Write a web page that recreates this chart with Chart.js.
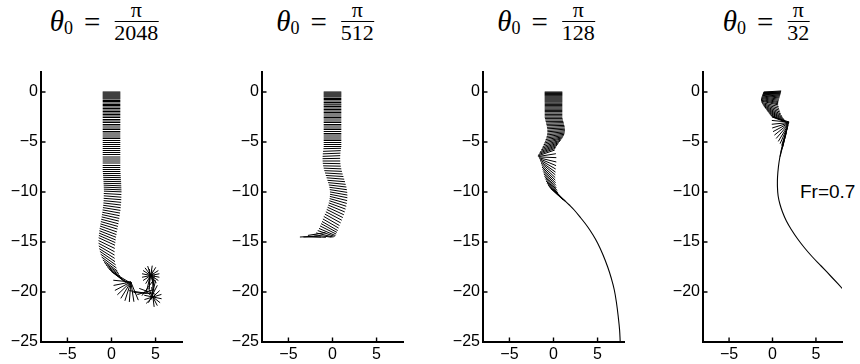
<!DOCTYPE html>
<html>
<head>
<meta charset="utf-8">
<script src="https://cdn.jsdelivr.net/npm/chart.js@4.4.1/dist/chart.umd.min.js"></script>
<style>
    body { margin: 0; background: #fff; width: 860px; height: 364px; position: relative; overflow: hidden; }
    canvas { position: absolute; top: 0; }
    .titulo {
        position: absolute; top: 1px; height: 40px; transform: translateX(-50%);
        display: flex; align-items: center; white-space: nowrap; color: #000;
        font-family: "Liberation Serif", "DejaVu Serif", serif; font-size: 29px; line-height: 1;
    }
    .titulo i { font-style: italic; position: relative; top: 0px; }
    .titulo .sub { font-size: 18px; align-self: flex-end; margin-bottom: 4px; }
    .titulo .eq { margin: 0 14px 0 11px; position: relative; top: 1px; }
    .frac { display: inline-flex; flex-direction: column; align-items: center; font-size: 22px; }
    .frac .num { border-bottom: 1.3px solid #000; width: 100%; text-align: center; line-height: 1; }
    .frac .den { line-height: 0.85; padding-top: 2px; }
    .rotulo { position: absolute; left: 800px; top: 182px; font-family: "Liberation Sans", Arial, sans-serif; font-size: 19px; line-height: 19px; }
</style>
</head>
<body>
<div class="titulo" style="left:104px"><i>θ</i><span class="sub">0</span><span class="eq">=</span><span class="frac"><span class="num">π</span><span class="den">2048</span></span></div>
<div class="titulo" style="left:325px"><i>θ</i><span class="sub">0</span><span class="eq">=</span><span class="frac"><span class="num">π</span><span class="den">512</span></span></div>
<div class="titulo" style="left:546px"><i>θ</i><span class="sub">0</span><span class="eq">=</span><span class="frac"><span class="num">π</span><span class="den">128</span></span></div>
<div class="titulo" style="left:766px"><i>θ</i><span class="sub">0</span><span class="eq">=</span><span class="frac"><span class="num">π</span><span class="den">32</span></span></div>
<div class="rotulo">Fr=0.7</div>

<canvas id="painel1" width="200" height="364" style="left:0px"></canvas>
<canvas id="painel2" width="200" height="364" style="left:221px"></canvas>
<canvas id="painel3" width="200" height="364" style="left:442px"></canvas>
<canvas id="painel4" width="198" height="364" style="left:662px"></canvas>

<script>
// Ticks dos eixos
const ticksX = [-5, 0, 5];
const ticksY = [-25, -20, -15, -10, -5, 0];
const ticksYPainel4 = [-20, -15, -10, -5, 0];

// Placas: [centro x, centro y, ângulo em graus]
const placas1 = [
    [0, 0, 0], [0, -0.1, 0], [0, -0.2, 0], [0, -0.3, 0], [0, -0.4, 0], [0, -0.5, 0], [0, -0.6, 0], [0, -0.7, 0], [0, -0.85, 0], [0, -0.95, 0],
    [0, -1.1, 0], [0, -1.25, 0], [0, -1.35, 0], [0, -1.5, 0], [0, -1.65, 0], [0, -1.8, 0], [0, -1.95, 0], [0, -2.1, 0], [0, -2.25, 0], [0, -2.4, 0],
    [0, -2.55, 0], [0, -2.75, 0], [0, -2.9, 0], [0, -3.05, 0], [0, -3.25, 0], [0, -3.4, 0], [0, -3.6, 0], [0, -3.75, 0], [0, -3.95, 0], [0, -4.1, 0],
    [0, -4.3, 0], [0, -4.5, 0], [0, -4.65, 0], [0, -4.85, 0], [0, -5.05, 0], [0, -5.25, 0], [0, -5.45, 0], [0, -5.65, 0], [0, -5.85, 0], [0, -6.05, 0],
    [0, -6.25, 0], [0, -6.5, 0], [0, -6.7, 0], [0, -6.9, 0], [0, -7.1, 0], [0, -7.35, 0], [0, -7.55, 0], [0, -7.75, 0],
    [0.01, -7.95, 0], [0.03, -8.15, 0], [0.04, -8.35, -1], [0.06, -8.55, -1], [0.07, -8.75, -1], [0.09, -8.95, -1], [0.1, -9.15, -1],
    [0.11, -9.35, -2], [0.12, -9.55, -2], [0.13, -9.75, -2], [0.14, -9.95, -2],
    [0.12, -10.2, -3], [0.12, -10.45, -4], [0.11, -10.7, -4], [0.1, -10.95, -5], [0.08, -11.2, -6], [0.05, -11.45, -7], [0.02, -11.7, -8],
    [-0.02, -11.95, -9], [-0.06, -12.2, -10], [-0.1, -12.45, -11], [-0.14, -12.7, -12], [-0.19, -12.95, -13], [-0.24, -13.2, -14],
    [-0.29, -13.45, -15], [-0.34, -13.7, -17], [-0.39, -13.95, -18], [-0.43, -14.2, -19], [-0.47, -14.45, -20], [-0.5, -14.7, -21], [-0.53, -14.95, -22],
    [-0.55, -15.25, -23], [-0.56, -15.55, -25], [-0.55, -15.85, -27], [-0.52, -16.15, -29], [-0.46, -16.45, -31], [-0.38, -16.75, -32],
    [-0.28, -17.05, -33], [-0.15, -17.35, -34], [0.0, -17.6, -34], [0.17, -17.85, -35], [0.36, -18.1, -35], [0.56, -18.3, -35],
    [0.8, -18.5, -34], [1.05, -18.6, -32], [1.3, -18.65, -28],
    [1.2, -18.91, -5], [1.22, -19.17, 10], [1.29, -19.42, 25], [1.43, -19.64, 40], [1.63, -19.82, 55], [1.86, -19.94, 70],
    [2.11, -20.0, 85], [2.37, -19.99, 100], [2.62, -19.91, 115],
    [3.0, -20.0, -8], [3.5, -20.1, -3], [3.9, -20.0, 15], [4.1, -19.6, 50], [4.2, -19.1, 75], [4.3, -18.7, 90],
    [4.45, -18.35, 110], [4.45, -18.35, 130], [4.45, -18.35, 150], [4.45, -18.35, 170], [4.45, -18.35, 10], [4.45, -18.35, 30],
    [4.45, -18.35, 55], [4.45, -18.35, 80],
    [4.65, -18.8, 95], [4.75, -19.3, 85], [4.75, -19.8, 75], [4.7, -20.2, 60],
    [4.7, -20.5, 40], [4.7, -20.5, 15], [4.7, -20.5, -10], [4.7, -20.5, -35], [4.7, -20.5, -60], [4.7, -20.5, -82],
    [4.1, -19.95, -18]
];

const placas2 = [
    [0, 0, 0], [0, -0.1, 0], [0, -0.2, 0], [0, -0.3, 0], [0, -0.4, 0], [0, -0.5, 0], [0, -0.65, 0], [0, -0.75, 0], [0, -0.9, 0], [0, -1.05, 0],
    [0, -1.2, 0], [0, -1.3, 0], [0, -1.45, 0], [0, -1.6, 0], [0, -1.75, 0], [0, -1.9, 0], [0, -2.05, 0], [0, -2.2, 0], [0, -2.4, 0], [0, -2.55, 0],
    [0, -2.7, 0], [0, -2.9, 0], [0, -3.05, 0], [0, -3.25, 0], [0, -3.4, 0], [0, -3.6, 0], [0, -3.75, 0], [0, -3.95, 0], [0, -4.15, 0], [0, -4.3, 0],
    [0, -4.5, 0], [0, -4.7, 0], [0, -4.85, 0], [0, -5.05, 0], [0, -5.25, 0], [0, -5.45, 0],
    [-0.03, -5.65, 1], [-0.07, -5.9, 2], [-0.1, -6.15, 2], [-0.12, -6.4, 2], [-0.13, -6.65, 1], [-0.12, -6.9, 0], [-0.1, -7.15, -1],
    [-0.06, -7.4, -1], [0, -7.65, -2], [0.07, -7.9, -2], [0.15, -8.15, -3], [0.24, -8.4, -3], [0.33, -8.65, -4], [0.42, -8.9, -4],
    [0.5, -9.15, -5], [0.58, -9.4, -6], [0.64, -9.65, -7], [0.68, -9.9, -8], [0.7, -10.15, -9], [0.7, -10.4, -10],
    [0.68, -10.65, -12], [0.65, -10.9, -14], [0.6, -11.15, -16], [0.53, -11.4, -18], [0.45, -11.65, -20], [0.36, -11.9, -22],
    [0.26, -12.15, -24], [0.15, -12.4, -25], [0.03, -12.65, -26], [-0.1, -12.9, -27], [-0.2, -13.15, -27], [-0.3, -13.4, -27],
    [-0.4, -13.6, -26], [-0.5, -13.8, -24], [-0.6, -14.0, -21], [-0.72, -14.15, -17], [-0.88, -14.3, -12], [-1.1, -14.4, -7],
    [-1.8, -14.2, 8], [-1.75, -14.48, -3], [-2.3, -14.5, 0], [-2.7, -14.45, 3]
];

const placas3 = [
    [0, 0, 0], [0, -0.08, 0], [0, -0.16, 0], [0, -0.24, 0], [0, -0.32, 0], [0, -0.4, 0], [0, -0.5, 0], [0, -0.6, 0], [0, -0.7, 0], [0, -0.8, 0],
    [0, -0.9, 0], [0, -1.0, 0], [0, -1.12, 0], [0, -1.24, 0], [0, -1.36, 0], [0, -1.48, 0], [0, -1.6, 0], [0, -1.72, 0], [0, -1.84, 0], [0, -1.96, 0],
    [0, -2.1, 0], [0, -2.24, 0], [0, -2.38, 0], [0, -2.52, 0],
    [0.03, -2.66, 0], [0.07, -2.8, 0], [0.11, -2.94, 0], [0.15, -3.08, 1], [0.19, -3.22, 1], [0.23, -3.36, 1], [0.26, -3.5, 2],
    [0.28, -3.64, 2], [0.3, -3.78, 3], [0.3, -3.92, 3], [0.29, -4.06, 4], [0.26, -4.2, 5], [0.22, -4.34, 6], [0.17, -4.48, 7],
    [0.1, -4.62, 8], [0.02, -4.76, 10], [-0.07, -4.9, 12],
    [-0.15, -5.05, 13], [-0.25, -5.2, 15], [-0.35, -5.35, 16], [-0.45, -5.5, 17], [-0.55, -5.65, 18], [-0.65, -5.8, 18],
    [-0.75, -5.95, 18], [-0.82, -6.1, 17],
    [-0.72, -6.31, 8], [-0.68, -6.53, -2], [-0.66, -6.79, -12], [-0.65, -7.02, -20], [-0.64, -7.25, -27], [-0.62, -7.48, -32],
    [-0.6, -7.69, -36], [-0.58, -7.93, -39], [-0.55, -8.16, -41], [-0.5, -8.4, -43], [-0.45, -8.64, -44], [-0.39, -8.89, -45],
    [-0.31, -9.13, -45], [-0.22, -9.37, -45], [-0.12, -9.59, -44], [0.0, -9.8, -43], [0.14, -9.98, -41], [0.3, -10.14, -40],
    [0.48, -10.28, -38]
];

const placas4 = [
    [0, 0.05, 3], [-0.02, 0.0, 2], [-0.04, -0.05, 1], [-0.06, -0.1, 0], [-0.08, -0.15, -1], [-0.1, -0.2, -2], [-0.12, -0.27, -3],
    [-0.15, -0.34, -4], [-0.18, -0.42, -5], [-0.21, -0.5, -6], [-0.25, -0.6, -7], [-0.28, -0.7, -8], [-0.31, -0.8, -9],
    [-0.33, -0.9, -9], [-0.34, -1.0, -10],
    [-0.33, -1.1, -11], [-0.28, -1.25, -12], [-0.22, -1.4, -14], [-0.15, -1.55, -16], [-0.07, -1.7, -18], [0.02, -1.85, -20],
    [0.12, -2.0, -21], [0.23, -2.15, -22], [0.35, -2.3, -22], [0.48, -2.45, -22], [0.62, -2.6, -21], [0.75, -2.7, -20], [0.88, -2.8, -18],
    [0.95, -2.74, -15], [0.92, -2.93, -5], [0.91, -3.14, 5], [0.93, -3.34, 15], [0.97, -3.54, 25], [1.04, -3.74, 35],
    [1.13, -3.94, 45], [1.24, -4.12, 55], [1.33, -4.27, 63], [1.4, -4.41, 70], [1.44, -4.54, 75],
    [1.3, -5.0, 72], [1.15, -5.5, 74]
];

// Trajetórias finais (placa de perfil)
const trilha3X = [0.0, 0.6, 1.2, 1.8, 2.35, 3.1, 3.85, 4.45, 5.0, 5.6, 6.15, 6.55, 6.9, 7.15, 7.35, 7.5, 7.57];
const trilha3Y = [-9.7, -10.3, -10.8, -11.3, -11.8, -12.6, -13.45, -14.25, -15.1, -16.25, -17.5, -18.6, -19.8, -21.1, -22.5, -23.8, -25.0];
const trilha4X = [1.7, 1.4, 1.1, 0.85, 0.68, 0.58, 0.57, 0.65, 0.85, 1.15, 1.6, 2.2, 2.9, 3.7, 4.6, 5.6, 6.8, 8.3];
const trilha4Y = [-3.6, -4.5, -5.5, -6.5, -7.5, -8.5, -9.5, -10.4, -11.2, -12.0, -12.9, -13.8, -14.7, -15.6, -16.5, -17.4, -18.5, -19.9];

const MEIA_PLACA = 1; // meia largura da placa

// Converte as placas em segmentos separados por nulos
function segmentosPlacas(placas) {
    const pontos = [];
    placas.forEach(([cx, cy, ang]) => {
        const a = ang * Math.PI / 180;
        const dx = MEIA_PLACA * Math.cos(a);
        const dy = MEIA_PLACA * Math.sin(a);
        pontos.push({ x: cx - dx, y: cy - dy }, { x: cx + dx, y: cy + dy }, { x: null, y: null });
    });
    return pontos;
}

// Ticks para dentro, como no original
const ticksInternos = {
    id: "ticksInternos",
    afterDraw(chart) {
        const { ctx, chartArea: area, scales: { x, y } } = chart;
        ctx.save();
        ctx.strokeStyle = "#000";
        ctx.lineWidth = 1.4;
        ctx.beginPath();
        x.ticks.forEach(t => {
            const px = x.getPixelForValue(t.value);
            ctx.moveTo(px, area.bottom);
            ctx.lineTo(px, area.bottom - 4.5);
        });
        y.ticks.forEach(t => {
            const py = y.getPixelForValue(t.value);
            ctx.moveTo(area.left, py);
            ctx.lineTo(area.left + 4.5, py);
        });
        ctx.stroke();
        ctx.restore();
    }
};

function rotuloNumero(v) {
    return v < 0 ? "\u2212" + Math.abs(v) : String(v);
}

function criarPainel(id, placas, trilhaX, trilhaY, ticksDoY) {
    const datasets = [{
        data: segmentosPlacas(placas),
        showLine: true,
        spanGaps: false,
        borderColor: "#000",
        borderWidth: 1,
        pointRadius: 0,
        pointHoverRadius: 0
    }];
    if (trilhaX) {
        datasets.push({
            data: trilhaX.map((x, i) => ({ x: x, y: trilhaY[i] })),
            showLine: true,
            borderColor: "#000",
            borderWidth: 1.1,
            tension: 0.4,
            pointRadius: 0,
            pointHoverRadius: 0
        });
    }

    const fonteTicks = { family: "'Liberation Sans', Arial, sans-serif", size: 16 };

    new Chart(document.getElementById(id), {
        type: "scatter",
        data: { datasets: datasets },
        options: {
            responsive: false,
            animation: false,
            devicePixelRatio: 1,
            events: [],
            layout: { padding: { top: 72, right: 18, left: 0, bottom: 0 } },
            plugins: {
                legend: { display: false },
                tooltip: { enabled: false }
            },
            scales: {
                x: {
                    type: "linear",
                    min: -8,
                    max: 8,
                    afterBuildTicks: s => { s.ticks = ticksX.map(v => ({ value: v })); },
                    afterFit: s => { s.height = 22; },
                    grid: { display: false, drawTicks: false },
                    border: { display: true, color: "#000", width: 2 },
                    ticks: { color: "#000", font: fonteTicks, padding: 3, maxRotation: 0, callback: rotuloNumero }
                },
                y: {
                    type: "linear",
                    min: -25,
                    max: 2,
                    afterBuildTicks: s => { s.ticks = ticksDoY.map(v => ({ value: v })); },
                    afterFit: s => { s.width = 41; },
                    grid: { display: false, drawTicks: false },
                    border: { display: true, color: "#000", width: 2 },
                    ticks: { color: "#000", font: fonteTicks, padding: 3, callback: rotuloNumero }
                }
            }
        },
        plugins: [ticksInternos]
    });
}

criarPainel("painel1", placas1, null, null, ticksY);
criarPainel("painel2", placas2, null, null, ticksY);
criarPainel("painel3", placas3, trilha3X, trilha3Y, ticksY);
criarPainel("painel4", placas4, trilha4X, trilha4Y, ticksYPainel4);
</script>
</body>
</html>
